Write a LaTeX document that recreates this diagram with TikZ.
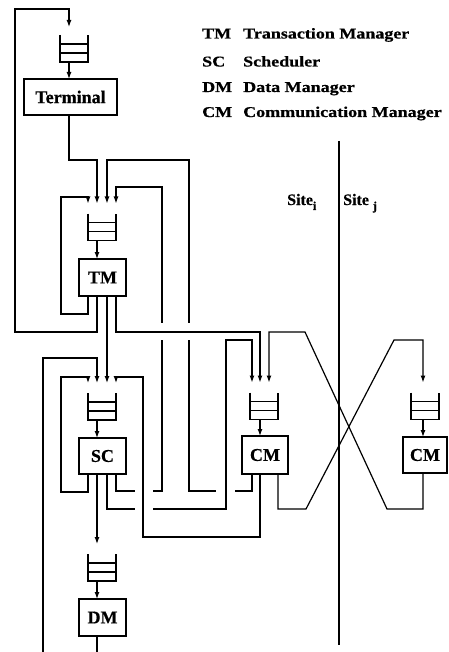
\documentclass[tikz,border=0pt]{standalone}
\usepackage{fontspec}
\setmainfont{Liberation Serif}
\newfontfamily\legfont[FakeStretch=1.2,FakeBold=0.6]{Liberation Serif Bold}
\newfontfamily\boxfont[FakeBold=0.6]{Liberation Serif Bold}
\usetikzlibrary{arrows.meta,calc}
\tikzset{
  ln/.style={line width=1.2pt, line join=miter},
  box/.style={draw, line width=1.2pt, minimum width=47pt, minimum height=37pt, inner sep=0pt, outer sep=0pt, font=\boxfont\fontsize{18}{18}\selectfont},
  qnode/.style={minimum width=28pt, minimum height=27pt, inner sep=0pt, outer sep=0pt},
  arr/.style={ln, -{Latex[length=7pt,width=5pt]}},
  qin/.style={arr, shorten >=10pt},
  gapw/.style={draw=white, line width=4pt},
  legab/.style={anchor=base west, inner sep=0pt, font=\legfont\fontsize{15}{15}\selectfont},
  sitelab/.style={anchor=base west, inner sep=0pt, font=\boxfont\fontsize{16}{16}\selectfont},
}
\newcommand\queuelines[1]{%
  \draw[ln] (#1.north west) -- (#1.south west) -- (#1.south east) -- (#1.north east);
  \draw[ln] ($(#1.north west)!0.33!(#1.south west)$) -- ($(#1.north east)!0.33!(#1.south east)$);
  \draw[ln] ($(#1.north west)!0.67!(#1.south west)$) -- ($(#1.north east)!0.67!(#1.south east)$);
}
\begin{document}
\begin{tikzpicture}[x=1pt,y=-1pt]
\clip (0,0) rectangle (448,652);
\fill[white] (0,0) rectangle (448,652);

% queues
\node[qnode] (qTerm) at (74,48.5) {};
\node[qnode] (qTM) at (102,227) {};
\node[qnode] (qSC) at (102,406.5) {};
\node[qnode] (qDM) at (102,567.5) {};
\node[qnode] (qCMi) at (264,406) {};
\node[qnode] (qCMj) at (425,406) {};
\queuelines{qTerm}
\queuelines{qTM}
\queuelines{qSC}
\queuelines{qDM}
\queuelines{qCMi}
\queuelines{qCMj}

% boxes
\node[box, minimum width=93pt, minimum height=36pt] (Term) at (70.5,97) {Terminal};
\node[box] (TM) at (102.5,277.5) {TM};
\node[box, minimum height=36pt] (SC) at (102.5,456) {SC};
\node[box] (DM) at (102.5,617.5) {DM};
\node[box, minimum width=46pt, minimum height=38pt] (CMi) at (265,455) {CM};
\node[box, minimum width=44pt, minimum height=36pt] (CMj) at (425,455) {CM};

% queue -> box
\draw[arr] (qTerm.south -| 69,0) -- (Term.north -| 69,0);
\draw[arr] (qTM.south -| 97,0) -- (TM.north -| 97,0);
\draw[arr] (qSC.south -| 97,0) -- (SC.north -| 97,0);
\draw[arr] (qDM.south -| 97,0) -- (DM.north -| 97,0);
\draw[arr] (qCMi.south -| 260,0) -- (CMi.north -| 260,0);
\draw[arr] (qCMj.south -| 423,0) -- (CMj.north -| 423,0);

% Terminal -> TM
\draw[qin] (Term.south -| 69,0) -- (69,160) -- (97,160) -- (qTM.north -| 97,0);
% TM -> Terminal
\draw[qin, shorten >=8pt] (TM.south -| 97,0) -- (97,332) -- (15,332) -- (15,9) -- (69,9) -- (qTerm.north -| 69,0);
% TM self loop
\draw[qin] (TM.south -| 88,0) -- (88,314) -- (61,314) -- (61,197) -- (88,197) -- (qTM.north -| 88,0);
% TM -> SC
\draw[qin] (TM.south -| 107,0) -- (qSC.north -| 107,0);
% CMi -> TM
\draw[qin] (CMi.south -| 252,0) -- (252,491) -- (189,491) -- (189,160) -- (107,160) -- (qTM.north -| 107,0);
% SC -> TM
\draw[qin] (SC.south -| 116,0) -- (116,491) -- (162,491) -- (162,187) -- (116,187) -- (qTM.north -| 116,0);
\draw[gapw] (162,323) -- (162,340);
\draw[gapw] (189,323) -- (189,340);
\draw[gapw] (135,491) -- (153,491);
\draw[gapw] (216,491) -- (235,491);
% SC self loop
\draw[qin] (SC.south -| 88,0) -- (88,492) -- (61,492) -- (61,377) -- (88,377) -- (qSC.north -| 88,0);
% SC -> DM
\draw[qin] (SC.south -| 97,0) -- (qDM.north -| 97,0);
% DM -> SC
\draw[qin] (DM.south -| 97,0) -- (97,680) -- (43,680) -- (43,358) -- (97,358) -- (qSC.north -| 97,0);
% SC -> CMi
\draw[qin] (SC.south -| 107,0) -- (107,509) -- (226,509) -- (226,340) -- (252,340) -- (qCMi.north -| 252,0);
\draw[gapw] (135,509) -- (153,509);
% TM -> CMi
\draw[qin] (TM.south -| 116,0) -- (116,332) -- (260,332) -- (qCMi.north -| 260,0);
% CMi -> SC
\draw[qin] (CMi.south -| 260,0) -- (260,537) -- (143,537) -- (143,377) -- (116,377) -- (qSC.north -| 116,0);
% CMi -> CMj
\draw[qin] (CMi.south -| 278,0) -- (278,509) -- (306,509) -- (394,340) -- (423,340) -- (qCMj.north -| 423,0);
% CMj -> CMi
\draw[qin] (CMj.south -| 423,0) -- (423,509) -- (387,509) -- (305,332) -- (269,332) -- (qCMi.north -| 269,0);

% site divider
\draw[line width=1.8pt] (339,141) -- (339,645);
\node[sitelab] (si) at (287,205) {Site\raisebox{-5pt}{\fontsize{12}{12}\selectfont i}};
\node[sitelab] (sj) at (343,205) {Site\hspace{4pt}\raisebox{-5pt}{\fontsize{12}{12}\selectfont j}};

% legend
\node[legab] (aTM) at (202,38.5) {TM};
\node[legab] (nTM) at (243,38.5) {Transaction Manager};
\node[legab] (aSC) at (202,66.5) {SC};
\node[legab] (nSC) at (243,66.5) {Scheduler};
\node[legab] (aDM) at (202,92) {DM};
\node[legab] (nDM) at (243,92) {Data Manager};
\node[legab] (aCM) at (202,117) {CM};
\node[legab] (nCM) at (243,117) {Communication Manager};
\end{tikzpicture}
\end{document}
